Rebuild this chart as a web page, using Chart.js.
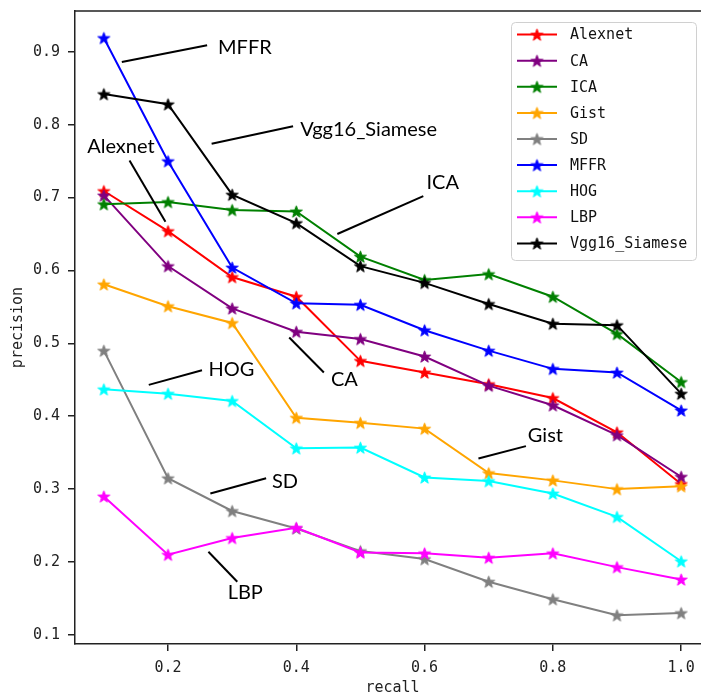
<!DOCTYPE html>
<html>
<head>
<meta charset="utf-8">
<title>precision / recall</title>
<script src="https://cdn.jsdelivr.net/npm/chart.js@4.4.1/dist/chart.umd.min.js"></script>
<style>
    html, body { margin: 0; padding: 0; background: #fff; overflow: hidden; }
    #wrap { width: 701px; height: 698px; overflow: hidden; }
</style>
</head>
<body>
<div id="wrap"><canvas id="prChart" width="720" height="698"></canvas></div>
<script>
// Data
const recall = [0.1, 0.2, 0.3, 0.4, 0.5, 0.6, 0.7, 0.8, 0.9, 1.0];
const xTicks = [0.2, 0.4, 0.6, 0.8, 1.0];
const yTicks = [0.1, 0.2, 0.3, 0.4, 0.5, 0.6, 0.7, 0.8, 0.9];

const seriesNames = ['Alexnet', 'CA', 'ICA', 'Gist', 'SD', 'MFFR', 'HOG', 'LBP', 'Vgg16_Siamese'];
const alexnet = [0.709, 0.654, 0.591, 0.564, 0.476, 0.460, 0.444, 0.425, 0.378, 0.307];
const ca      = [0.703, 0.606, 0.548, 0.516, 0.506, 0.482, 0.442, 0.415, 0.374, 0.317];
const ica     = [0.691, 0.694, 0.683, 0.681, 0.619, 0.587, 0.595, 0.564, 0.513, 0.447];
const gist    = [0.581, 0.551, 0.528, 0.398, 0.391, 0.383, 0.322, 0.312, 0.300, 0.304];
const sd      = [0.490, 0.315, 0.270, 0.246, 0.215, 0.204, 0.173, 0.149, 0.127, 0.130];
const mffr    = [0.919, 0.750, 0.604, 0.555, 0.553, 0.518, 0.490, 0.465, 0.460, 0.408];
const hog     = [0.437, 0.431, 0.421, 0.356, 0.357, 0.316, 0.311, 0.294, 0.262, 0.201];
const lbp     = [0.290, 0.210, 0.233, 0.247, 0.213, 0.212, 0.206, 0.212, 0.193, 0.176];
const vgg     = [0.842, 0.828, 0.704, 0.665, 0.606, 0.583, 0.554, 0.527, 0.525, 0.431];
const seriesValues = [alexnet, ca, ica, gist, sd, mffr, hog, lbp, vgg];
const seriesColors = ['#ff0000', '#800080', '#008000', '#ffa500', '#808080', '#0000ff', '#00ffff', '#ff00ff', '#000000'];

// Callout labels inside the plot (data coordinates)
const callouts = [
    { text: 'MFFR',          tx: 0.278, ty: 0.906, x1: 0.128, y1: 0.886, x2: 0.261, y2: 0.909 },
    { text: 'Vgg16_Siamese', tx: 0.406, ty: 0.794, x1: 0.268, y1: 0.774, x2: 0.395, y2: 0.798 },
    { text: 'Alexnet',       tx: 0.074, ty: 0.770, x1: 0.140, y1: 0.751, x2: 0.196, y2: 0.667 },
    { text: 'ICA',           tx: 0.603, ty: 0.720, x1: 0.464, y1: 0.650, x2: 0.598, y2: 0.702 },
    { text: 'CA',            tx: 0.454, ty: 0.450, x1: 0.389, y1: 0.508, x2: 0.443, y2: 0.460 },
    { text: 'HOG',           tx: 0.263, ty: 0.464, x1: 0.170, y1: 0.443, x2: 0.253, y2: 0.463 },
    { text: 'SD',            tx: 0.362, ty: 0.310, x1: 0.266, y1: 0.294, x2: 0.353, y2: 0.315 },
    { text: 'LBP',           tx: 0.293, ty: 0.158, x1: 0.263, y1: 0.214, x2: 0.308, y2: 0.173 },
    { text: 'Gist',          tx: 0.761, ty: 0.374, x1: 0.684, y1: 0.342, x2: 0.758, y2: 0.359 }
];

const monoFont = "'DejaVu Sans Mono', monospace";
const axisColor = '#222';

document.addEventListener('DOMContentLoaded', function() {
    // Filled five-point star like matplotlib '*'
    function makeStar(color, r) {
        const size = Math.ceil(r * 2 + 2);
        const c = document.createElement('canvas');
        c.width = size;
        c.height = size;
        const g = c.getContext('2d');
        g.beginPath();
        for (let k = 0; k < 10; k++) {
            const rad = k % 2 === 0 ? r : r * 0.4;
            const a = -Math.PI / 2 + k * Math.PI / 5;
            const px = size / 2 + rad * Math.cos(a);
            const py = size / 2 + rad * Math.sin(a) + r * 0.1;
            if (k === 0) g.moveTo(px, py); else g.lineTo(px, py);
        }
        g.closePath();
        g.fillStyle = color;
        g.fill();
        g.strokeStyle = color;
        g.lineWidth = 1;
        g.stroke();
        return c;
    }

    const stars = seriesColors.map(c => makeStar(c, 6.3));

    const datasets = seriesNames.map((name, i) => ({
        label: name,
        data: recall.map((r, j) => ({ x: r, y: seriesValues[i][j] })),
        borderColor: seriesColors[i],
        backgroundColor: seriesColors[i],
        borderWidth: 2,
        pointStyle: stars[i],
        pointRadius: 6,
        tension: 0,
        fill: false,
        order: seriesNames.length - i
    }));

    // Box frame (top / right spines)
    const framePlugin = {
        id: 'frame',
        afterDraw(chart) {
            const { ctx, chartArea: a } = chart;
            ctx.save();
            ctx.strokeStyle = axisColor;
            ctx.lineWidth = 1.5;
            ctx.beginPath();
            ctx.moveTo(a.left, a.top);
            ctx.lineTo(a.right, a.top);
            ctx.lineTo(a.right, a.bottom);
            ctx.stroke();
            ctx.restore();
        }
    };

    // Text + leader line callouts
    const calloutPlugin = {
        id: 'callouts',
        afterDatasetsDraw(chart) {
            const { ctx, scales: { x, y } } = chart;
            ctx.save();
            ctx.strokeStyle = '#000';
            ctx.lineWidth = 2;
            ctx.fillStyle = '#000';
            ctx.font = "20px Lato, 'Open Sans', sans-serif";
            ctx.textBaseline = 'middle';
            ctx.textAlign = 'left';
            callouts.forEach(c => {
                ctx.beginPath();
                ctx.moveTo(x.getPixelForValue(c.x1), y.getPixelForValue(c.y1));
                ctx.lineTo(x.getPixelForValue(c.x2), y.getPixelForValue(c.y2));
                ctx.stroke();
                ctx.fillText(c.text, x.getPixelForValue(c.tx), y.getPixelForValue(c.ty));
            });
            ctx.restore();
        }
    };

    // Legend box in the upper right corner
    const legendPlugin = {
        id: 'boxLegend',
        afterDraw(chart) {
            const { ctx, chartArea: a } = chart;
            const left = a.right - 199;
            const top = a.top + 11;
            const w = 185, h = 238, rowH = 26.1;
            ctx.save();
            ctx.fillStyle = 'rgba(255,255,255,0.85)';
            ctx.strokeStyle = '#d0d0d0';
            ctx.lineWidth = 1;
            ctx.beginPath();
            ctx.roundRect(left + 0.5, top + 0.5, w, h, 4);
            ctx.fill();
            ctx.stroke();
            ctx.font = '15px ' + monoFont;
            ctx.textBaseline = 'middle';
            ctx.textAlign = 'left';
            seriesNames.forEach((name, i) => {
                const cy = top + 12.6 + i * rowH;
                ctx.strokeStyle = seriesColors[i];
                ctx.lineWidth = 2;
                ctx.beginPath();
                ctx.moveTo(left + 6, cy);
                ctx.lineTo(left + 46, cy);
                ctx.stroke();
                const s = stars[i];
                ctx.drawImage(s, left + 26 - s.width / 2, cy - s.height / 2);
                ctx.fillStyle = '#111';
                ctx.fillText(name, left + 59, cy + 1);
            });
            ctx.restore();
        }
    };

    const ctx = document.getElementById('prChart').getContext('2d');
    new Chart(ctx, {
        type: 'line',
        data: { datasets: datasets },
        plugins: [framePlugin, calloutPlugin, legendPlugin],
        options: {
            responsive: false,
            animation: false,
            devicePixelRatio: 1,
            events: [],
            layout: { padding: { left: 0, top: 11, right: 10, bottom: 0 } },
            plugins: {
                legend: { display: false },
                tooltip: { enabled: false }
            },
            scales: {
                x: {
                    type: 'linear',
                    min: 0.055,
                    max: 1.045,
                    afterBuildTicks: s => { s.ticks = xTicks.map(v => ({ value: v })); },
                    afterFit: s => { s.height = 54; s.paddingLeft = 0; s.paddingRight = 0; },
                    grid: { display: true, drawOnChartArea: false, drawTicks: true, tickLength: 7, color: axisColor, lineWidth: 1.5 },
                    border: { display: true, color: axisColor, width: 1.5 },
                    ticks: {
                        callback: v => Number(v).toFixed(1),
                        font: { family: monoFont, size: 15 },
                        color: axisColor,
                        padding: 8,
                        maxRotation: 0
                    },
                    title: {
                        display: true,
                        text: 'recall',
                        font: { family: monoFont, size: 15 },
                        color: axisColor,
                        padding: { top: 0, bottom: 1 }
                    }
                },
                y: {
                    type: 'linear',
                    min: 0.0875,
                    max: 0.956,
                    afterBuildTicks: s => { s.ticks = yTicks.map(v => ({ value: v })); },
                    afterFit: s => { s.width = 75; s.paddingTop = 0; s.paddingBottom = 0; },
                    grid: { display: true, drawOnChartArea: false, drawTicks: true, tickLength: 7, color: axisColor, lineWidth: 1.5 },
                    border: { display: true, color: axisColor, width: 1.5 },
                    ticks: {
                        callback: v => Number(v).toFixed(1),
                        font: { family: monoFont, size: 15 },
                        color: axisColor,
                        padding: 8
                    },
                    title: {
                        display: true,
                        text: 'precision',
                        font: { family: monoFont, size: 15 },
                        color: axisColor,
                        padding: { top: 9, bottom: 0 }
                    }
                }
            }
        }
    });
});
</script>
</body>
</html>
